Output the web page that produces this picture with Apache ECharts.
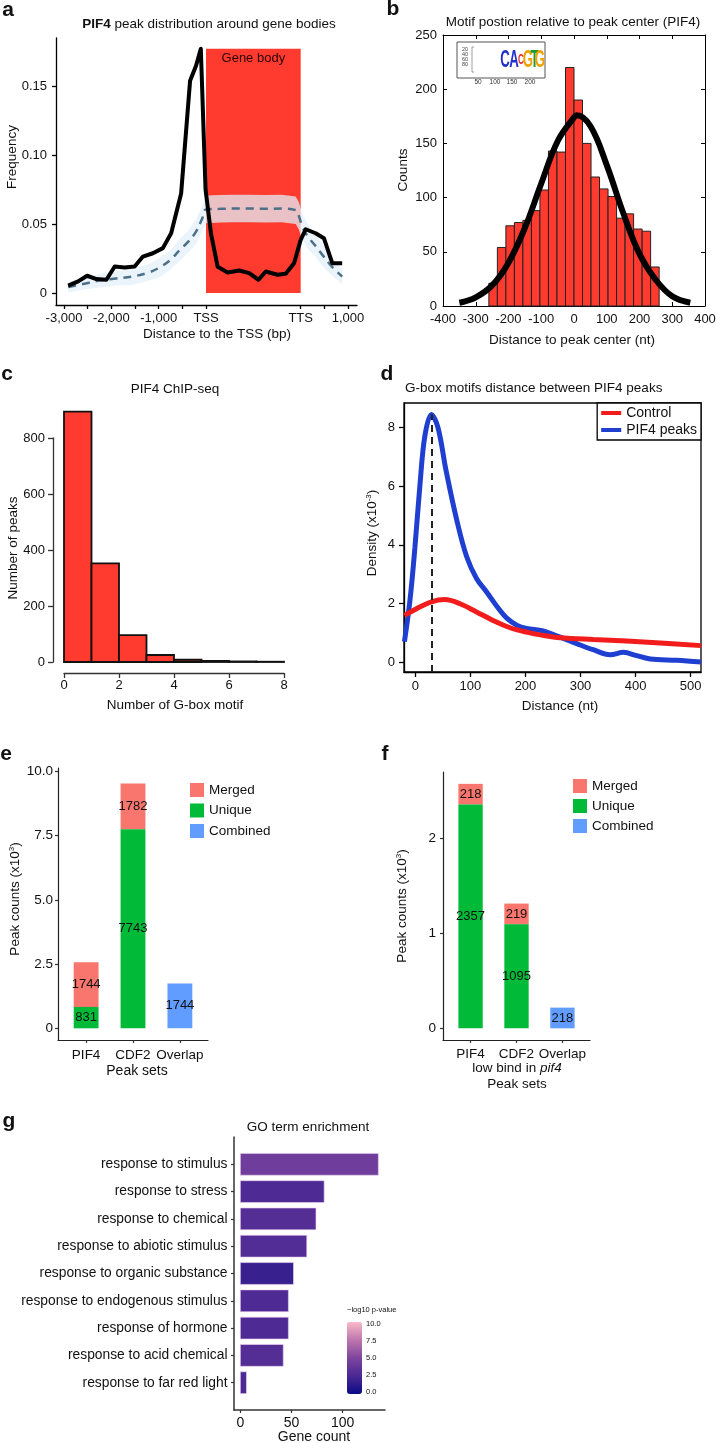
<!DOCTYPE html>
<html><head><meta charset="utf-8">
<script src="https://cdn.jsdelivr.net/npm/echarts@6/dist/echarts.min.js"></script>
<style>html,body{margin:0;padding:0;background:#fff}#c{width:716px;height:1443px}</style>
</head><body><div id="c"></div><script>
// ---------------- Panel a ----------------
const aXTickVals = [-3000,-2500,-2000,-1500,-1000,-500,0,2000,2500,3000];
const aXLabelVals = [-3000,-2000,-1000,0,2000,3000];
const aXLabelText = ['-3,000','-2,000','-1,000','TSS','TTS','1,000'];
const aYTickVals = [0,0.05,0.10,0.15];
const aGeneBody = [0, 2000, 0.177]; // TSS, TTS, top
const aBlackX = [-2912,-2702,-2512,-2316,-2105,-1930,-1719,-1509,-1333,-1123,-912,-737,-526,-337,-211,-110,-10,105,246,456,702,912,1109,1263,1509,1684,1860,2000,2105,2316,2491,2667,2877];
const aBlackY = [0.0053,0.0084,0.0125,0.0101,0.0096,0.0192,0.0185,0.0192,0.0264,0.0288,0.0325,0.0433,0.0721,0.1538,0.1647,0.1770,0.0750,0.0430,0.0190,0.0149,0.0163,0.0144,0.0096,0.0156,0.0132,0.0139,0.0216,0.0385,0.0462,0.0433,0.0397,0.0216,0.0216];
const aDashX = [-2912,-2600,-2246,-1900,-1544,-1200,-982,-750,-561,-380,-211,-80,0,300,561,900,1263,1600,1895,1960,2035,2150,2316,2450,2596,2750,2877];
const aDashY = [0.0043,0.0065,0.0090,0.0105,0.0120,0.0150,0.0185,0.0240,0.0310,0.0370,0.0445,0.0540,0.0606,0.0610,0.0612,0.0612,0.0610,0.0612,0.0600,0.0560,0.0480,0.0410,0.0340,0.0280,0.0216,0.0160,0.0120];
const aBandLow = [0.0003,0.0025,0.0040,0.0055,0.0060,0.0090,0.0115,0.0170,0.0230,0.0290,0.0355,0.0445,0.0506,0.0510,0.0512,0.0512,0.0510,0.0512,0.0500,0.0460,0.0390,0.0320,0.0260,0.0200,0.0146,0.0100,0.0065];
const aBandHigh = [0.0083,0.0105,0.0140,0.0155,0.0180,0.0210,0.0255,0.0310,0.0390,0.0450,0.0535,0.0635,0.0706,0.0710,0.0712,0.0712,0.0710,0.0712,0.0700,0.0660,0.0570,0.0500,0.0420,0.0360,0.0286,0.0220,0.0175];

// ---------------- Panel b ----------------
const bBinWidth = 26;
const bBinCenters = [-247,-221,-195,-169,-143,-117,-91,-65,-39,-13,13,39,65,91,117,143,169,195,221,247];
const bCounts = [21,54,74,77,79,88,107,143,142,220,190,150,119,108,101,81,85,71,69,36];
const bFitX = [-350,-300,-250,-200,-150,-100,-50,0,8,50,100,150,200,250,300,355];
const bFitY = [3,8,19,40,72,113,152,174,176,166,130,86,48,24,9,3];

// ---------------- Panel c ----------------
const cBins = [0,1,2,3,4,5,6,7];
const cCounts = [894,352,96,25,8,4,2,1];

// ---------------- Panel d ----------------
const dXTicks = [0,100,200,300,400,500];
const dYTicks = [0,2,4,6,8];
const dBlueX = [-20,-10,-1,8,17,29,41,56,75,93,111,129,150,166,185,202,232,263,293,323,354,378,402,427,475,519];
const dBlueY = [0.7,2.1,3.9,6.0,7.7,8.45,8.0,6.5,4.85,3.6,2.85,2.4,1.85,1.5,1.25,1.15,1.06,0.85,0.63,0.42,0.25,0.33,0.22,0.1,0.06,0.0];
const dRedX = [-20,2,29,53,81,111,141,172,202,232,263,323,384,445,519];
const dRedY = [1.59,1.82,2.05,2.13,1.99,1.71,1.42,1.17,1.02,0.91,0.83,0.77,0.72,0.65,0.56];
const dMotifX = 29, dMotifTop = 8.45;

// ---------------- Panel e ----------------
const eSets = ['PIF4','CDF2','Overlap'];
const eUnique = [831,7743,0];
const eMerged = [1744,1782,0];
const eCombined = [0,0,1744];
const eYTicks = [0,2500,5000,7500,10000];

// ---------------- Panel f ----------------
const fSets = ['PIF4','CDF2','Overlap'];
const fUnique = [2357,1095,0];
const fMerged = [218,219,0];
const fCombined = [0,0,218];
const fYTicks = [0,1000,2000];

// ---------------- Panel g ----------------
const gTerms = ['response to stimulus','response to stress','response to chemical','response to abiotic stimulus','response to organic substance','response to endogenous stimulus','response of hormone','response to acid chemical','response to far red light'];
const gCounts = [135,82,74,65,52,47,47,42,6];
const gLogP = [4.3,2.7,3.0,2.9,1.8,2.7,2.7,3.0,2.6];
const gXTicks = [0,50,100];
const gCbLabels = ['10.0','7.5','5.0','2.5','0.0'];

// =====================================================
const FONT = '"Liberation Sans", Arial, Helvetica, sans-serif';
const RED = '#FF3B2F';
const C_MERGED = '#F8766D', C_UNIQUE = '#00BA38', C_COMB = '#619CFF';

function axLine(color, width){ return {show:true, onZero:false, lineStyle:{color:color, width:width}}; }
function axTick(len, inside, color, width, custom){ const t={show:true, length:len, inside:!!inside, lineStyle:{color:color, width:width}}; if(custom) t.customValues=custom; return t; }
function axLabel(margin, custom, formatter, size){ const l={show:true, margin:margin, color:'#111', fontSize:size||13, fontFamily:FONT}; if(custom) l.customValues=custom; if(formatter) l.formatter=formatter; return l; }
const noSplit = {show:false};

const xAxes = [
  {gridIndex:0, type:'value', min:-3170, max:3190, axisLine:axLine('#000',1.3), axisTick:axTick(4,false,'#000',1.3,aXTickVals), axisLabel:axLabel(7,aXLabelVals,function(v){return aXLabelText[aXLabelVals.indexOf(v)];}), splitLine:noSplit},
  {gridIndex:1, type:'value', min:-400, max:400, interval:100, axisLine:axLine('#000',1), axisTick:axTick(4,true,'#000',1), axisLabel:axLabel(7), splitLine:noSplit},
  {gridIndex:1, type:'value', position:'top', min:-400, max:400, interval:100, axisLine:axLine('#000',1), axisTick:axTick(4,true,'#000',1), axisLabel:{show:false}, splitLine:noSplit},
  {gridIndex:2, type:'value', min:0, max:8, interval:2, offset:11, axisLine:axLine('#333',1.3), axisTick:axTick(5,false,'#333',1.3), axisLabel:axLabel(6), splitLine:noSplit},
  {gridIndex:3, type:'value', min:0, max:8, show:false},
  {gridIndex:4, type:'value', min:-20.8, max:519, axisLine:axLine('#000',1.3), axisTick:axTick(5,false,'#000',1.3,dXTicks), axisLabel:axLabel(8,dXTicks), splitLine:noSplit},
  {gridIndex:5, type:'value', min:0.4, max:3.6, axisLine:axLine('#222',1.2), axisTick:axTick(3,false,'#333',1.2,[1,2,3]), axisLabel:axLabel(8,[1,2,3],function(v){return eSets[v-1];},13.5), splitLine:noSplit},
  {gridIndex:6, type:'value', min:0.4, max:3.6, axisLine:axLine('#222',1.2), axisTick:axTick(3,false,'#333',1.2,[1,2,3]), axisLabel:axLabel(7,[1,2,3],function(v){return fSets[v-1];},13.5), splitLine:noSplit},
  {gridIndex:7, type:'value', min:-6.2, max:141.5, axisLine:axLine('#333',1.5), axisTick:axTick(3,false,'#333',1.2,gXTicks), axisLabel:axLabel(6,gXTicks,null,14), splitLine:noSplit}
];
const yAxes = [
  {gridIndex:0, type:'value', min:-0.0087, max:0.1848, axisLine:axLine('#000',1.3), axisTick:axTick(4,false,'#000',1.3,aYTickVals), axisLabel:axLabel(9,aYTickVals,function(v){return v===0?'0':v.toFixed(2);}), splitLine:noSplit},
  {gridIndex:1, type:'value', min:0, max:250, interval:50, axisLine:axLine('#000',1), axisTick:axTick(4,true,'#000',1), axisLabel:axLabel(6), splitLine:noSplit},
  {gridIndex:1, type:'value', position:'right', min:0, max:250, interval:50, axisLine:axLine('#000',1), axisTick:axTick(4,true,'#000',1), axisLabel:{show:false}, splitLine:noSplit},
  {gridIndex:2, type:'value', min:0, max:918, show:false},
  {gridIndex:3, type:'value', min:0, max:800, interval:200, offset:11, axisLine:axLine('#333',1.3), axisTick:axTick(5,false,'#333',1.3), axisLabel:axLabel(8), splitLine:noSplit},
  {gridIndex:4, type:'value', min:-0.34, max:8.84, axisLine:axLine('#000',1.3), axisTick:axTick(5,false,'#000',1.3,dYTicks), axisLabel:axLabel(9,dYTicks), splitLine:noSplit},
  {gridIndex:5, type:'value', min:-455, max:10130, axisLine:axLine('#222',1.2), axisTick:axTick(3,false,'#333',1.2,eYTicks), axisLabel:axLabel(5,eYTicks,function(v){return v===0?'0':(v/1000).toFixed(1);},13.5), splitLine:noSplit},
  {gridIndex:6, type:'value', min:-123, max:2700, axisLine:axLine('#222',1.2), axisTick:axTick(3,false,'#333',1.2,fYTicks), axisLabel:axLabel(7,fYTicks,function(v){return String(v/1000);},13.5), splitLine:noSplit},
  {gridIndex:7, type:'value', min:0, max:10, inverse:true, axisLine:axLine('#333',1.5), axisTick:axTick(3,false,'#333',1.2,[1,2,3,4,5,6,7,8,9]), axisLabel:axLabel(6.5,[1,2,3,4,5,6,7,8,9],function(v){return gTerms[v-1];},13.8), splitLine:noSplit}
];
const grids = [
  {left:56, top:38, width:301, height:267},
  {left:443, top:35, width:262, height:271},
  {left:64, top:405, width:220, height:257},
  {left:64, top:438, width:220, height:224},
  {left:404, top:403, width:297, height:269, show:true, borderColor:'#000', borderWidth:1.3, backgroundColor:'transparent'},
  {left:58, top:768, width:150, height:272},
  {left:443, top:772, width:147, height:268},
  {left:234, top:1137, width:151, height:273}
];
grids.forEach(function(g){ g.outerBoundsMode='none'; g.containLabel=false; });

function txtEl(x, y, text, o){
  o = o || {};
  const font = (o.italic?'italic ':'') + (o.weight||'normal') + ' ' + (o.size||13) + 'px ' + FONT;
  const al = o.align||'center';
  return {type:'text', x:x, y:y, rotation:o.rot||0, scaleX:o.sx||1, z:100,
    style:{text:text, font:font, fill:o.color||'#111', align:al, verticalAlign:'middle', textAlign:al, textVerticalAlign:'middle', rich:o.rich}};
}

function stackRender(params, api){
  const x=api.value(0), b=api.value(1), t=api.value(2), lab=api.value(3);
  const p0=api.coord([x,b]), p1=api.coord([x,t]);
  const w=api.size([0.53,0])[0];
  return {type:'group', children:[
    {type:'rect', shape:{x:p0[0]-w/2, y:p1[1], width:w, height:p0[1]-p1[1]}, style:{fill:api.visual('color')}},
    {type:'text', x:p0[0], y:(p0[1]+p1[1])/2, style:{text:String(lab), font:'13px '+FONT, fill:'#111', align:'center', verticalAlign:'middle', textAlign:'center', textVerticalAlign:'middle'}}
  ]};
}
function stackData(sets, bottoms, values){
  const out=[];
  sets.forEach(function(s,i){ if(values[i]>0) out.push([i+1, bottoms[i], bottoms[i]+values[i], values[i]]); });
  return out;
}
const zeros = [0,0,0];

const series = [
  {type:'custom', xAxisIndex:0, yAxisIndex:0, z:1, silent:true, data:[aGeneBody],
   renderItem:function(params, api){
     const p0=api.coord([api.value(0),0]), p1=api.coord([api.value(1),api.value(2)]);
     return {type:'group', children:[
       {type:'rect', shape:{x:p0[0], y:p1[1], width:p1[0]-p0[0], height:p0[1]-p1[1]}, style:{fill:RED}},
       {type:'text', x:(p0[0]+p1[0])/2, y:p1[1]+10, style:{text:'Gene body', font:'13px '+FONT, fill:'#2a0000', align:'center', verticalAlign:'middle', textAlign:'center', textVerticalAlign:'middle'}}
     ]};
   }},
  {type:'custom', xAxisIndex:0, yAxisIndex:0, z:2, silent:true, data:[[0,0]],
   renderItem:function(params, api){
     const pts=[];
     for(let i=0;i<aDashX.length;i++) pts.push(api.coord([aDashX[i], aBandHigh[i]]));
     for(let i=aDashX.length-1;i>=0;i--) pts.push(api.coord([aDashX[i], aBandLow[i]]));
     return {type:'polygon', shape:{points:pts}, style:{fill:'rgba(226,240,248,0.74)'}};
   }},
  {type:'line', xAxisIndex:0, yAxisIndex:0, z:3, silent:true, showSymbol:false, smooth:0.4,
   data:aDashX.map(function(x,i){return [x,aDashY[i]];}), lineStyle:{color:'#4d7089', width:2.5, type:[8,6]}},
  {type:'line', xAxisIndex:0, yAxisIndex:0, z:4, silent:true, showSymbol:false,
   data:aBlackX.map(function(x,i){return [x,aBlackY[i]];}), lineStyle:{color:'#000', width:4, join:'round'}},
  {type:'custom', xAxisIndex:1, yAxisIndex:1, z:2, silent:true,
   data:bBinCenters.map(function(c,i){return [c,bCounts[i]];}),
   renderItem:function(params, api){
     const c=api.value(0), h=api.value(1);
     const p0=api.coord([c-bBinWidth/2,0]), p1=api.coord([c+bBinWidth/2,h]);
     return {type:'rect', shape:{x:p0[0], y:p1[1], width:p1[0]-p0[0], height:p0[1]-p1[1]}, style:{fill:RED, stroke:'#222', lineWidth:1}};
   }},
  {type:'line', xAxisIndex:1, yAxisIndex:1, z:4, silent:true, showSymbol:false, smooth:0.4,
   data:bFitX.map(function(x,i){return [x,bFitY[i]];}), lineStyle:{color:'#000', width:6, cap:'butt'}},
  {type:'custom', xAxisIndex:3, yAxisIndex:3, z:2, silent:true,
   data:cBins.map(function(b,i){return [b,cCounts[i]];}),
   renderItem:function(params, api){
     const b=api.value(0), h=api.value(1);
     const p0=api.coord([b,0]), p1=api.coord([b+1,h]);
     return {type:'rect', shape:{x:p0[0], y:p1[1], width:p1[0]-p0[0], height:p0[1]-p1[1]}, style:{fill:RED, stroke:'#111', lineWidth:1.8}};
   }},
  {name:'PIF4 peaks', type:'line', xAxisIndex:5, yAxisIndex:5, z:3, silent:true, showSymbol:false, smooth:0.35,
   data:dBlueX.map(function(x,i){return [x,dBlueY[i]];}), itemStyle:{color:'#1f3fd0'}, lineStyle:{color:'#1f3fd0', width:5},
   markLine:{silent:true, symbol:['none','none'], label:{show:false}, lineStyle:{type:[7,5], color:'#222', width:2},
     data:[[{coord:[dMotifX,-0.34]},{coord:[dMotifX,dMotifTop]}]]}},
  {name:'Control', type:'line', xAxisIndex:5, yAxisIndex:5, z:4, silent:true, showSymbol:false, smooth:0.35,
   data:dRedX.map(function(x,i){return [x,dRedY[i]];}), itemStyle:{color:'#f21c1c'}, lineStyle:{color:'#f21c1c', width:5}},
  {name:'Merged', type:'custom', xAxisIndex:6, yAxisIndex:6, silent:true, itemStyle:{color:C_MERGED}, data:stackData(eSets,eUnique,eMerged), renderItem:stackRender},
  {name:'Unique', type:'custom', xAxisIndex:6, yAxisIndex:6, silent:true, itemStyle:{color:C_UNIQUE}, data:stackData(eSets,zeros,eUnique), renderItem:stackRender},
  {name:'Combined', type:'custom', xAxisIndex:6, yAxisIndex:6, silent:true, itemStyle:{color:C_COMB}, data:stackData(eSets,zeros,eCombined), renderItem:stackRender},
  {name:'Merged', type:'custom', xAxisIndex:7, yAxisIndex:7, silent:true, itemStyle:{color:C_MERGED}, data:stackData(fSets,fUnique,fMerged), renderItem:stackRender},
  {name:'Unique', type:'custom', xAxisIndex:7, yAxisIndex:7, silent:true, itemStyle:{color:C_UNIQUE}, data:stackData(fSets,zeros,fUnique), renderItem:stackRender},
  {name:'Combined', type:'custom', xAxisIndex:7, yAxisIndex:7, silent:true, itemStyle:{color:C_COMB}, data:stackData(fSets,zeros,fCombined), renderItem:stackRender},
  {type:'custom', xAxisIndex:8, yAxisIndex:8, silent:true,
   data:gTerms.map(function(t,i){return [i+1, gCounts[i], gLogP[i]];}),
   encode:{x:1, y:0},
   renderItem:function(params, api){
     const i=api.value(0), n=api.value(1);
     const p0=api.coord([0,i]), p1=api.coord([n,i]);
     const h=Math.abs(api.size([0,0.8])[1]);
     return {type:'rect', shape:{x:p0[0], y:p0[1]-h/2, width:p1[0]-p0[0], height:h}, style:{fill:api.visual('color'), stroke:'rgba(235,210,240,0.8)', lineWidth:0.8}};
   }}
];

const sup = {fontSize:8, fontFamily:FONT, verticalAlign:'top', padding:[0,0,6,0]};
const graphics = [
  txtEl(8,10,'a',{weight:'bold',size:21}),
  txtEl(393,9,'b',{weight:'bold',size:21}),
  txtEl(7,374,'c',{weight:'bold',size:21}),
  txtEl(387,374,'d',{weight:'bold',size:21}),
  txtEl(6,754,'e',{weight:'bold',size:21}),
  txtEl(385,754,'f',{weight:'bold',size:21}),
  txtEl(9,1121,'g',{weight:'bold',size:21}),
  txtEl(209,24,'{b|PIF4} peak distribution around gene bodies',{size:13.5, rich:{b:{fontWeight:'bold', fontSize:13.5, fontFamily:FONT}}}),
  txtEl(573,22,'Motif postion relative to peak center (PIF4)',{size:13.5}),
  txtEl(175,389,'PIF4 ChIP-seq',{size:13.5}),
  txtEl(405,388,'G-box motifs distance between PIF4 peaks',{size:13.5, align:'left'}),
  txtEl(308,1127,'GO term enrichment',{size:13.5}),
  txtEl(12,157,'Frequency',{size:13.5, rot:Math.PI/2}),
  txtEl(217,334,'Distance to the TSS (bp)',{size:13.5}),
  txtEl(403,170,'Counts',{size:13.5, rot:Math.PI/2}),
  txtEl(572,340,'Distance to peak center (nt)',{size:13.5}),
  txtEl(13,548,'Number of peaks',{size:13.5, rot:Math.PI/2}),
  txtEl(175,705,'Number of G-box motif',{size:13.5}),
  txtEl(372,533,'Density (x10{s|-3})',{size:13.5, rot:Math.PI/2, rich:{s:sup}}),
  txtEl(560,706,'Distance (nt)',{size:13.5}),
  txtEl(15,899,'Peak counts (x10{s|3})',{size:13.5, rot:Math.PI/2, rich:{s:sup}}),
  txtEl(137,1071,'Peak sets',{size:14}),
  txtEl(402,906,'Peak counts (x10{s|3})',{size:13.5, rot:Math.PI/2, rich:{s:sup}}),
  txtEl(517,1068,'low bind in {i|pif4}',{size:13.5, rich:{i:{fontStyle:'italic', fontSize:13.5, fontFamily:FONT}}}),
  txtEl(517,1084,'Peak sets',{size:13.5}),
  txtEl(314,1437,'Gene count',{size:14}),
  txtEl(347,1310,'\u2212log10 p-value',{size:7.5, align:'left'})
];
gCbLabels.forEach(function(t,i){ graphics.push(txtEl(366,1324+i*17,t,{size:7.5, align:'left'})); });
graphics.push({type:'rect', shape:{x:457,y:42,width:88,height:36}, style:{fill:'#fff', stroke:'#555', lineWidth:1}, z:90});
['20','40','60','80'].forEach(function(t,i){ graphics.push(txtEl(465,49+i*5,t,{size:5.5, color:'#444'})); });
graphics.push({type:'polyline', shape:{points:[[474,47],[472,47],[472,72],[474,72]]}, style:{stroke:'#888', lineWidth:0.8, fill:null}, z:95});
[['50',478],['100',495],['150',512],['200',530]].forEach(function(p){ graphics.push(txtEl(p[1],82,p[0],{size:6.5, color:'#333'})); });
[['C',505,'#2233cc'],['A',514,'#2233cc'],['C',521,'#e0302a'],['G',528,'#f0a000'],['T',534.5,'#1a9a2a'],['G',540,'#f0a000']].forEach(function(p,i){
  graphics.push(txtEl(p[1],60,p[0],{size:i===2?15:24, weight:'bold', color:p[2], sx:0.55}));
});

const option = {
  animation:false,
  backgroundColor:'#fff',
  textStyle:{fontFamily:FONT},
  grid:grids, xAxis:xAxes, yAxis:yAxes, series:series,
  legend:[
    {data:['Control','PIF4 peaks'], orient:'vertical', right:15, top:403, icon:'rect', itemWidth:20, itemHeight:4, itemGap:3,
     padding:[3,4,3,4], borderColor:'#000', borderWidth:1.3, backgroundColor:'#fff', selectedMode:false, textStyle:{fontSize:14, color:'#111', fontFamily:FONT}},
    {data:['Merged','Unique','Combined'], orient:'vertical', left:190, top:783, icon:'rect', itemWidth:14, itemHeight:14, itemGap:6.5, padding:0, selectedMode:false, textStyle:{fontSize:13.5, color:'#111', fontFamily:FONT}},
    {data:['Merged','Unique','Combined'], orient:'vertical', left:573, top:779, icon:'rect', itemWidth:14, itemHeight:14, itemGap:6, padding:0, selectedMode:false, textStyle:{fontSize:13.5, color:'#111', fontFamily:FONT}}
  ],
  visualMap:[{type:'continuous', seriesIndex:15, dimension:2, min:0, max:10, left:342, top:1317, padding:5, itemWidth:15, itemHeight:72,
    calculable:false, hoverLink:false, text:null, inRange:{color:['#0b0b86','#4a2893','#7e459e','#bd76ad','#fbb9c8']}}],
  graphic:graphics
};
const chart = echarts.init(document.getElementById('c'), null, {renderer:'canvas', width:716, height:1443});
chart.setOption(option);
</script></body></html>
